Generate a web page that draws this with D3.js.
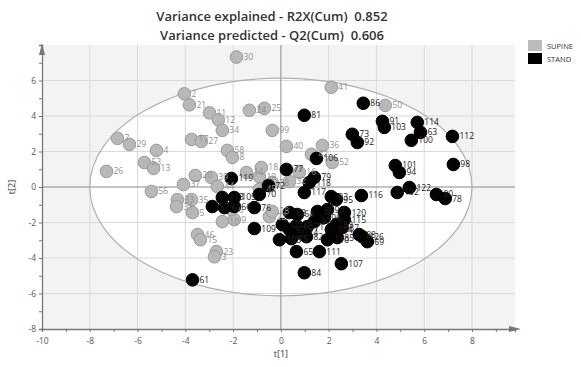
<!DOCTYPE html>
<html>
<head>
<meta charset="utf-8">
<script src="https://cdn.jsdelivr.net/npm/d3@7"></script>
<style>
  body { margin: 0; background: #fff; }
  svg { display: block; }
  .title { white-space: pre; }
</style>
</head>
<body>
<svg id="chart" width="581" height="367"></svg>
<script>
// scores [label, t1, t2]
const supine = [
  ["30", -1.86, 7.32], ["2", -4.04, 5.25], ["21", -3.83, 4.63], ["11", -2.99, 4.18],
  ["12", -2.62, 3.79], ["24", -1.32, 4.32], ["25", -0.69, 4.43], ["34", -2.45, 3.19],
  ["99", -0.36, 3.19], ["17", -3.74, 2.68], ["27", -3.33, 2.57], ["58", -2.24, 2.06],
  ["8", -2.03, 1.67], ["40", 0.23, 2.29], ["36", 1.74, 2.34], ["41", 2.11, 5.62],
  ["50", 4.37, 4.60], ["52", 2.15, 1.38], ["7", -6.84, 2.74], ["29", -6.34, 2.40],
  ["4", -5.21, 2.06], ["53", -5.71, 1.38], ["13", -5.33, 1.05], ["26", -7.30, 0.88],
  ["56", -5.42, -0.25], ["37", -4.08, 0.14], ["20", -3.58, 0.65], ["33", -4.33, -0.71],
  ["31", -4.37, -1.10], ["35", -3.74, -0.71], ["5", -3.70, -1.44], ["46", -3.49, -2.68],
  ["15", -3.37, -2.97], ["23", -2.70, -3.64], ["3", -2.78, -3.93], ["39", -2.91, 0.54],
  ["44", -2.66, 0.03], ["14", -1.44, 0.82], ["19", -0.90, 0.59], ["18", -0.82, 1.10],
  ["10", -2.45, -1.95], ["9", -1.95, -1.84], ["6", -2.07, -1.27], ["22", -0.48, -1.67],
  ["28", -0.36, -1.38], ["16", 0.77, 0.82], ["32", 0.36, 0.31], ["38", -0.36, 0.25],
  ["42", 1.28, 1.84], ["45", -0.90, -0.14]
];

const stand = [
  ["81", 0.98, 4.04], ["106", 1.49, 1.61], ["86", 3.45, 4.72], ["91", 4.25, 3.70],
  ["103", 4.33, 3.36], ["114", 5.71, 3.64], ["63", 5.84, 3.08], ["100", 5.46, 2.63],
  ["112", 7.18, 2.85], ["73", 2.99, 2.97], ["92", 3.20, 2.51], ["101", 4.79, 1.21],
  ["94", 4.96, 0.82], ["98", 7.22, 1.27], ["116", 3.37, -0.48], ["102", 4.87, -0.31],
  ["122", 5.38, -0.03], ["80", 6.51, -0.42], ["78", 6.88, -0.65], ["93", 2.11, -0.54],
  ["95", 2.32, -0.71], ["120", 2.66, -1.44], ["126", 3.41, -2.80], ["69", 3.62, -3.08],
  ["85", 2.36, -2.85], ["107", 2.53, -4.32], ["111", 1.61, -3.64], ["65", 0.65, -3.64],
  ["84", 0.98, -4.83], ["61", -3.70, -5.23], ["109", -1.11, -2.34], ["76", -1.11, -1.16],
  ["119", -2.07, 0.48], ["72", -0.52, 0.08], ["77", 0.23, 0.99], ["79", 1.40, 0.54],
  ["118", 1.19, 0.25], ["117", 0.98, -0.31], ["113", -2.45, -0.59], ["57", -2.87, -1.10],
  ["105", -1.95, -0.59], ["60", -2.36, -1.16], ["66", -1.95, -1.10], ["70", -0.90, -0.42],
  ["89", 1.53, -1.38], ["90", 1.95, -1.27], ["97", 1.40, -1.95], ["96", 1.82, -1.72],
  ["71", 1.11, -2.23], ["62", 0.36, -1.44], ["64", 0.69, -1.55], ["67", 0.36, -2.40],
  ["68", 0.65, -2.18], ["74", 0.86, -2.57], ["75", 0.44, -2.91], ["82", 1.07, -2.80],
  ["83", 2.32, -2.12], ["87", 2.57, -2.29], ["88", 3.28, -2.68], ["104", 2.11, -2.40],
  ["110", 1.95, -2.97], ["115", 2.66, -1.84], ["121", 0.06, -2.12], ["108", -0.06, -2.97]
];

const titleLines = ["Variance explained - R2X(Cum)  0.852", "Variance predicted - Q2(Cum)  0.606"];
const groups = ["SUPINE", "STAND"];
const xTicks = [-10, -8, -6, -4, -2, 0, 2, 4, 6, 8];
const yTicks = [-8, -6, -4, -2, 0, 2, 4, 6];
const ellipseRadii = [8.0, 6.13]; // Hotelling T2 (95%)

const svg = d3.select("#chart");
const x = d3.scaleLinear().domain([-10, 9.8]).range([42, 515]);
const y = d3.scaleLinear().domain([-8, 8]).range([329, 45]);
const font = "'Open Sans', 'DejaVu Sans', sans-serif";

// plot background
svg.append("rect")
  .attr("x", x(-10)).attr("y", y(8))
  .attr("width", x(9.8) - x(-10)).attr("height", y(-8) - y(8))
  .attr("fill", "#f3f3f3");

svg.append("ellipse")
  .attr("cx", x(0)).attr("cy", y(0))
  .attr("rx", x(ellipseRadii[0]) - x(0)).attr("ry", y(0) - y(ellipseRadii[1]))
  .attr("fill", "#fff");

// grid
svg.selectAll("line.vgrid")
  .data(xTicks.filter(d => d !== -10 && d !== 0))
  .join("line")
  .attr("class", "vgrid")
  .attr("x1", d => x(d)).attr("x2", d => x(d))
  .attr("y1", y(8)).attr("y2", y(-8))
  .attr("stroke", "#d9d9d9").attr("stroke-width", 1);

svg.selectAll("line.hgrid")
  .data(yTicks.filter(d => d !== -8 && d !== 0))
  .join("line")
  .attr("class", "hgrid")
  .attr("x1", x(-10)).attr("x2", x(9.8))
  .attr("y1", d => y(d)).attr("y2", d => y(d))
  .attr("stroke", "#d9d9d9").attr("stroke-width", 1);

// zero lines
svg.append("line")
  .attr("x1", x(0)).attr("x2", x(0)).attr("y1", y(8)).attr("y2", y(-8))
  .attr("stroke", "#8a8a8a");
svg.append("line")
  .attr("x1", x(-10)).attr("x2", x(9.8)).attr("y1", y(0)).attr("y2", y(0))
  .attr("stroke", "#8a8a8a");

svg.append("ellipse")
  .attr("cx", x(0)).attr("cy", y(0))
  .attr("rx", x(ellipseRadii[0]) - x(0)).attr("ry", y(0) - y(ellipseRadii[1]))
  .attr("fill", "none").attr("stroke", "#b0b0b0").attr("stroke-width", 1.2);

// axes
const xAxis = svg.append("g")
  .attr("transform", `translate(0,${y(-8)})`)
  .call(d3.axisBottom(x).tickValues(d3.range(-10, 10, 1)).tickSize(3)
    .tickFormat(d => xTicks.includes(d) ? d : ""));
const yAxis = svg.append("g")
  .attr("transform", `translate(${x(-10)},0)`)
  .call(d3.axisLeft(y).tickValues(d3.range(-8, 8, 1)).tickSize(3)
    .tickFormat(d => yTicks.includes(d) ? d : ""));

[xAxis, yAxis].forEach(a => {
  a.select(".domain").attr("stroke", "#777").attr("stroke-width", 1.3);
  a.selectAll(".tick line").attr("stroke", "#777");
  a.selectAll(".tick text").attr("fill", "#555").attr("font-size", 8.5).attr("font-family", font);
});
xAxis.selectAll(".tick text").attr("dy", "1.1em");

svg.append("path")
  .attr("d", `M${x(9.8) + 6},${y(-8)} L${x(9.8) - 6},${y(-8) - 3} L${x(9.8) - 6},${y(-8) + 3} Z`)
  .attr("fill", "#777");
svg.append("path")
  .attr("d", `M${x(-10)},${y(8) - 2} L${x(-10) - 3},${y(8) + 10} L${x(-10) + 3},${y(8) + 10} Z`)
  .attr("fill", "#777");

svg.append("text")
  .attr("x", x(0)).attr("y", 357)
  .attr("text-anchor", "middle")
  .attr("font-size", 9).attr("font-family", font).attr("fill", "#333")
  .text("t[1]");
svg.append("text")
  .attr("transform", `translate(15,${y(0)}) rotate(-90)`)
  .attr("text-anchor", "middle")
  .attr("font-size", 9).attr("font-family", font).attr("fill", "#333")
  .text("t[2]");

// points
const drawGroup = (rows, fill, stroke) => {
  svg.append("g").selectAll("circle")
    .data(rows)
    .join("circle")
    .attr("cx", d => x(d[1])).attr("cy", d => y(d[2]))
    .attr("r", 6.3)
    .attr("fill", fill).attr("stroke", stroke).attr("stroke-width", 1);
};
drawGroup(supine, "#b8b8b8", "#999");
drawGroup(stand, "#030303", "#000");

const drawLabels = (rows, fill) => {
  svg.append("g").selectAll("text")
    .data(rows)
    .join("text")
    .attr("x", d => x(d[1]) + 7).attr("y", d => y(d[2]))
    .attr("dy", "0.35em")
    .attr("font-size", 8.5).attr("font-family", font).attr("fill", fill)
    .text(d => d[0]);
};
drawLabels(supine, "#8f8f8f");
drawLabels(stand, "#222");

// title
svg.selectAll("text.title")
  .data(titleLines)
  .join("text")
  .attr("class", "title")
  .attr("x", 272).attr("y", (d, i) => 21 + i * 19)
  .attr("text-anchor", "middle")
  .attr("font-size", 13).attr("font-weight", 600).attr("font-family", font)
  .attr("fill", "#333")
  .text(d => d);

// legend
const legend = svg.append("g").attr("transform", "translate(528,40)");
legend.selectAll("rect")
  .data(groups)
  .join("rect")
  .attr("x", 0).attr("y", (d, i) => i * 13)
  .attr("width", 14).attr("height", 11)
  .attr("fill", (d, i) => i === 0 ? "#bcbcbc" : "#000");
legend.selectAll("text")
  .data(groups)
  .join("text")
  .attr("x", 19).attr("y", (d, i) => i * 13 + 6)
  .attr("dy", "0.35em")
  .attr("font-size", 7.5).attr("font-family", font).attr("fill", "#333")
  .text(d => d);
</script>
</body>
</html>
